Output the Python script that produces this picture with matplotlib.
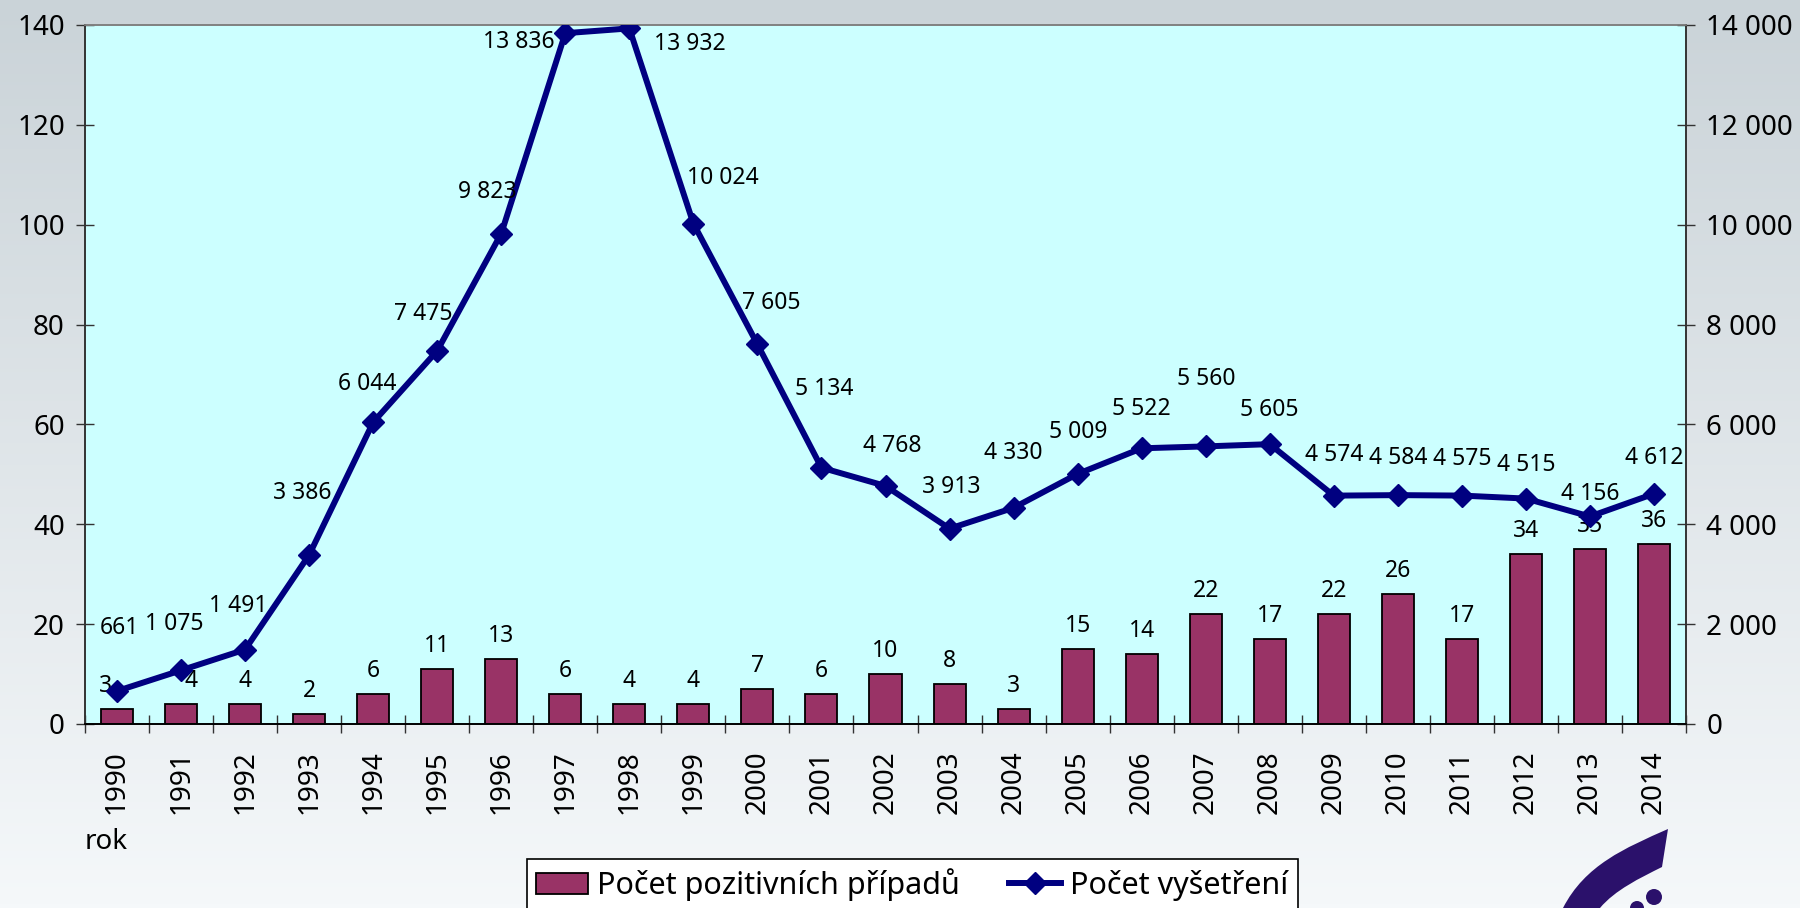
import matplotlib
matplotlib.use("Agg")
import matplotlib.pyplot as plt
import numpy as np
from matplotlib.path import Path
from matplotlib.patches import PathPatch, Circle
from matplotlib.transforms import IdentityTransform
from matplotlib.ticker import FuncFormatter, FixedLocator

plt.rcParams['font.family'] = ['Noto Sans', 'DejaVu Sans']

# data
roky = [str(r) for r in range(1990, 2015)]
pozitivni = [3, 4, 4, 2, 6, 11, 13, 6, 4, 4, 7, 6, 10, 8, 3, 15, 14, 22, 17, 22, 26, 17, 34, 35, 36]
vysetreni = [661, 1075, 1491, 3386, 6044, 7475, 9823, 13836, 13932, 10024, 7605, 5134, 4768,
             3913, 4330, 5009, 5522, 5560, 5605, 4574, 4584, 4575, 4515, 4156, 4612]

# label offsets for the line (pixels)
offs = [(2, 63), (-7, 46), (-7, 44), (-7, 62), (-6, 38), (-14, 37), (-14, 42), (-46, -9),
        (61, -16), (29, 46), (14, 41), (3, 79), (7, 40), (2, 42), (0, 55), (1, 42), (0, 39),
        (1, 67), (0, 34), (0, 41), (0, 37), (0, 37), (0, 34), (0, 22), (0, 36)]
# horizontal shift of a few bar labels (pixels)
bar_dx = {0: -12, 1: 10}

W, H = 1800, 908
fig = plt.figure(figsize=(W / 100, H / 100), dpi=100)

# background gradient
bg = fig.add_axes([0, 0, 1, 1], zorder=-10)
top = np.array([0xca, 0xd3, 0xd8]) / 255
bot = np.array([0xf5, 0xf8, 0xfa]) / 255
t = np.linspace(0, 1, 256)[:, None]
grad = top[None, :] * (1 - t) + bot[None, :] * t
bg.imshow(grad[:, None, :], aspect='auto', extent=[0, 1, 0, 1])
bg.axis('off')

def sep(v):
    return f"{int(v):,}".replace(",", " ")

L, R, T, B = 85, 1686, 25, 724
ax = fig.add_axes([L / W, 1 - B / H, (R - L) / W, (B - T) / H])
ax.set_facecolor('#ccffff')
x = np.arange(len(roky))
bars = ax.bar(x, pozitivni, width=0.5, color='#993366', edgecolor='black', linewidth=1.3,
              label='Počet pozitivních případů', zorder=2)
for i, (xi, v) in enumerate(zip(x, pozitivni)):
    ax.annotate(str(v), (xi, v), xytext=(bar_dx.get(i, 0), 11), textcoords='offset pixels',
                ha='center', va='bottom', fontsize=16.5)
ax.set_xlim(-0.5, len(roky) - 0.5)
ax.set_ylim(0, 140)
ax.set_yticks(np.arange(0, 141, 20))
ax.set_xticks(x)
ax.set_xticklabels(roky, rotation=90)
ax.xaxis.set_minor_locator(FixedLocator(np.arange(-0.5, len(roky), 1)))
ax.tick_params(axis='x', which='major', length=0, pad=19, labelsize=20)
ax.tick_params(axis='x', which='minor', direction='inout', length=13, width=1, color='#333333')
ax.tick_params(axis='y', direction='inout', length=13, width=1, color='#333333', labelsize=20, pad=8)

ax2 = ax.twinx()
ax2.plot(x, vysetreni, color='#000080', lw=4.3, marker='D', ms=11, label='Počet vyšetření', zorder=3)
ax2.set_ylim(0, 14000)
ax2.set_yticks(np.arange(0, 14001, 2000))
ax2.yaxis.set_major_formatter(FuncFormatter(lambda v, p: sep(v)))
ax2.tick_params(axis='y', direction='inout', length=13, width=1, color='#333333', labelsize=20, pad=8)
for xi, v, (dx, dy) in zip(x, vysetreni, offs):
    ax2.annotate(sep(v), (xi, v), xytext=(dx, dy), textcoords='offset pixels',
                 ha='center', va='center', fontsize=16.5)

for a in (ax, ax2):
    a.spines['top'].set_color('#808080')
    a.spines['left'].set_color('#333333')
    a.spines['right'].set_color('#333333')
    a.spines['bottom'].set_color('black')
    for s in a.spines.values():
        s.set_linewidth(1.2)

fig.text(L / W, 1 - 842 / H, 'rok', fontsize=20, va='center', ha='left')

h1, l1 = ax.get_legend_handles_labels()
h2, l2 = ax2.get_legend_handles_labels()
leg = fig.legend(h1 + h2, l1 + l2, loc='upper left', bbox_to_anchor=(527 / W, 1 - 859 / H),
                 borderaxespad=0, ncol=2, fontsize=22, frameon=True, fancybox=False,
                 edgecolor='black', framealpha=1, borderpad=0.3, handlelength=1.7,
                 columnspacing=1.6, handletextpad=0.3)
leg.get_frame().set_linewidth(1.2)

# logo in the corner
def P(px, py):
    return (px, H - py)

verts = [P(1668, 829), P(1625, 848), P(1585, 865), P(1563, 908),
         P(1600, 908), P(1615, 890), P(1640, 878), P(1662, 867),
         P(1668, 829)]
codes = [Path.MOVETO, Path.CURVE4, Path.CURVE4, Path.CURVE4,
         Path.LINETO, Path.CURVE4, Path.CURVE4, Path.CURVE4,
         Path.LINETO]
fig.patches.append(PathPatch(Path(verts, codes), facecolor='#2b116b', edgecolor='none',
                             transform=IdentityTransform()))
fig.patches.append(Circle(P(1654, 897), 8, facecolor='#2b116b', edgecolor='none',
                          transform=IdentityTransform()))
fig.patches.append(Circle(P(1637, 908), 7, facecolor='#2b116b', edgecolor='none',
                          transform=IdentityTransform()))

fig.savefig('out.png', dpi=100)
